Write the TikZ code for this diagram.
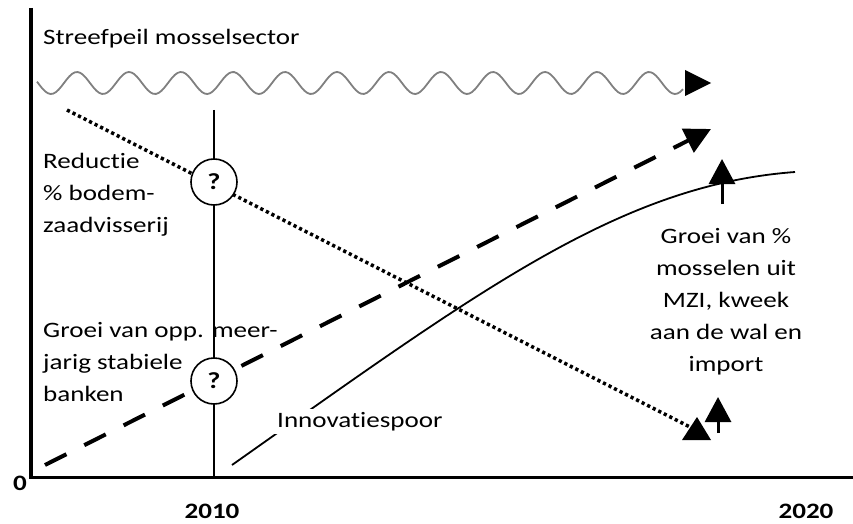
\documentclass[tikz,border=0pt]{standalone}
\usepackage{fontspec}
\setmainfont[FakeStretch=1.23, Ligatures=NoCommon]{Carlito}
\usetikzlibrary{arrows.meta}

\begin{document}
\begin{tikzpicture}[x=1pt, y=-1pt,
    txt/.style={font=\fontsize{22}{32}\selectfont, inner sep=0pt},
    yearlabel/.style={font=\fontsize{22}{25}\selectfont\bfseries, inner sep=0pt, anchor=base},
    query/.style={draw, circle, fill=white, line width=1.6pt, minimum size=46pt, inner sep=0pt, font=\fontsize{23}{25}\selectfont\bfseries},
    uparrow/.style={line width=3pt, -{Triangle[width=26pt, length=25pt]}}]
    \useasboundingbox (0,0) rectangle (853,524);

    % Axes
    \draw[line width=3.5pt] (31,8) -- (31,477.5) -- (853,477.5);
    \node[yearlabel] (zero) at (20,490) {0};
    \node[yearlabel] (y2010) at (212,518) {2010};
    \node[yearlabel] (y2020) at (806,518) {2020};

    % Target level (wave)
    \node[txt, anchor=base west] (target) at (43,45) {Streefpeil mosselsector};
    \draw[black!50, line width=1.8pt, domain=37:683, samples=240] plot (\x, {83 - 11*cos(6.9231*(\x-77))});
    \fill (685,70) -- (711,83) -- (685,96) -- cycle;

    % 2010 line
    \draw[line width=2pt] (214,110) -- (214,477);

    % Reduction (dotted)
    \coordinate (redstart) at (67,110);
    \coordinate (redend) at (690,427);
    \draw[line width=3.5pt, dash pattern=on 3.2pt off 3pt] (redstart) -- (redend);
    \fill (697,417) -- (711,440) -- (682,440) -- cycle;

    % Stable banks (dashed)
    \coordinate (bankstart) at (45,465);
    \coordinate (bankend) at (711,129);
    \draw[line width=4pt, dash pattern=on 24pt off 20pt, -{Triangle[width=26pt, length=26pt]}] (bankstart) -- (bankend);

    % Innovation track
    \coordinate (innostart) at (232,465);
    \coordinate (innoend) at (795,172);
    \draw[line width=1.8pt] (innostart) .. controls (480,290) and (620,185) .. (innoend);
    \node[txt, fill=white, inner sep=3pt, anchor=base west] (innov) at (274,427) {Innovatiespoor};

    % Question marks on 2010
    \node[query] (q1) at (214,182) {?};
    \node[query] (q2) at (214,381) {?};

    % Left labels (anchored on last line)
    \node[txt, align=left, anchor=base west] (reduction) at (43,232) {Reductie\\\% bodem-\\zaadvisserij};
    \node[txt, align=left, anchor=base west] (banks) at (43,401) {Groei van opp. meer-\\jarig stabiele\\banken};

    % Right label
    \node[txt, align=center, anchor=base] (growth) at (726,371) {Groei van \%\\mosselen uit\\MZI, kweek\\aan de wal en\\import};

    % Up arrows
    \coordinate (up1a) at (722,204);
    \coordinate (up1b) at (722,159);
    \draw[uparrow] (up1a) -- (up1b);
    \coordinate (up2a) at (718,433);
    \coordinate (up2b) at (718,397);
    \draw[uparrow] (up2a) -- (up2b);
\end{tikzpicture}
\end{document}
